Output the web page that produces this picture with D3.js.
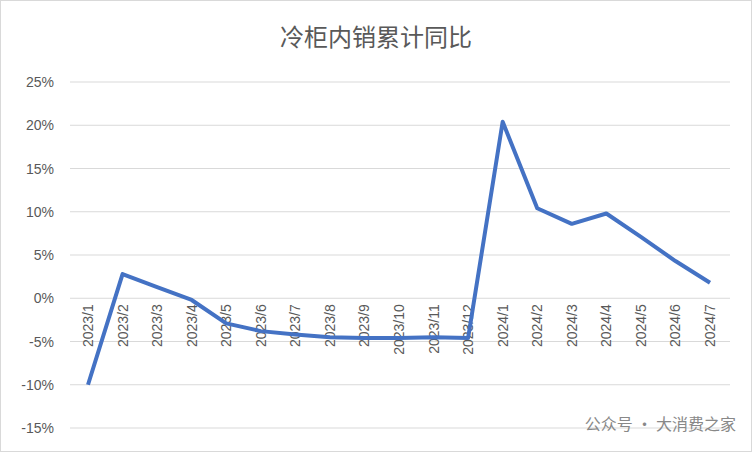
<!DOCTYPE html>
<html><head><meta charset="utf-8">
<script src="https://cdn.jsdelivr.net/npm/d3@7"></script>
<style>body{margin:0;background:#fff}</style>
</head><body><div id="chart"></div>
<script>
const categories = ['2023/1','2023/2','2023/3','2023/4','2023/5','2023/6','2023/7','2023/8','2023/9','2023/10','2023/11','2023/12','2024/1','2024/2','2024/3','2024/4','2024/5','2024/6','2024/7']
const values = [-10.0, 2.8, 1.3, -0.2, -2.9, -3.8, -4.2, -4.5, -4.6, -4.6, -4.5, -4.6, 20.4, 10.4, 8.6, 9.8, 7.1, 4.3, 1.8]
const yTicks = [-15, -10, -5, 0, 5, 10, 15, 20, 25]

const width = 752, height = 452
const svg = d3.select('#chart').append('svg').attr('width', width).attr('height', height)
svg.append('rect').attr('x', 0.5).attr('y', 0.5).attr('width', width - 1).attr('height', height - 1)
  .attr('fill', '#fff').attr('stroke', '#d9d9d9')
svg.append('text').attr('x', 376).attr('y', 46).attr('text-anchor', 'middle')
  .attr('fill', '#595959').style('font-size', '24px').style('font-family', 'Noto Sans CJK SC')
  .text('冷柜内销累计同比')

const x = d3.scalePoint().domain(categories).range([88, 710])
const y = d3.scaleLinear().domain([-15, 25]).range([428, 82])

const grid = svg.append('g')
yTicks.forEach(t => {
  grid.append('line').attr('x1', 70).attr('x2', 730).attr('y1', y(t)).attr('y2', y(t))
    .attr('stroke', '#d9d9d9')
  grid.append('text').attr('x', 54).attr('y', y(t) + 5).attr('text-anchor', 'end')
    .attr('fill', '#595959').style('font-size', '14px').style('font-family', 'Liberation Sans')
    .text(t + '%')
})
categories.forEach(c => {
  svg.append('text').attr('transform', `translate(${x(c) + 5},${y(0) + 6}) rotate(-90)`)
    .attr('text-anchor', 'end').attr('fill', '#595959')
    .style('font-size', '14px').style('font-family', 'Liberation Sans').text(c)
})
svg.append('path').datum(values)
  .attr('d', d3.line().x((d, i) => x(categories[i])).y(d => y(d)))
  .attr('fill', 'none').attr('stroke', '#4472c4').attr('stroke-width', 4)
  .attr('stroke-linejoin', 'round')
svg.append('text').attr('x', 736).attr('y', 430).attr('text-anchor', 'end')
  .attr('fill', '#888').style('font-size', '16px').style('font-family', 'Noto Sans CJK SC')
  .text('公众号 · 大消费之家')
</script></body></html>
